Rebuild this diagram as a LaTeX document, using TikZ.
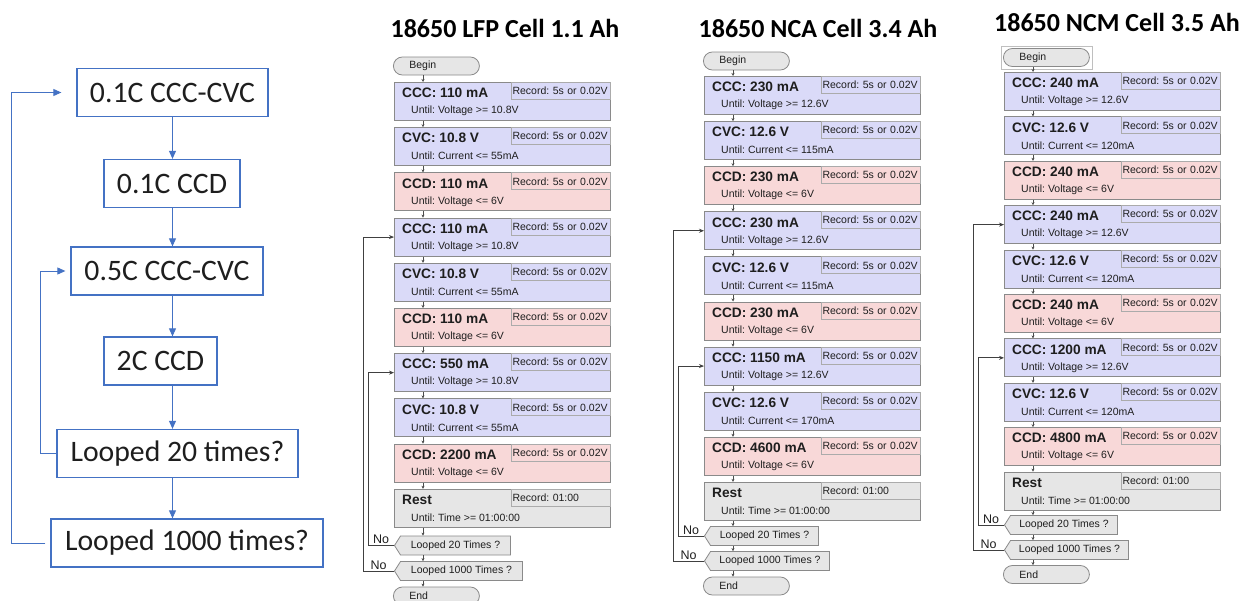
\documentclass[tikz,border=0pt]{standalone}
\usepackage{fontspec}
\setmainfont{Liberation Sans}
\newfontfamily\calibri{Carlito}
\usetikzlibrary{arrows.meta, positioning, shapes.misc, shapes.symbols, fit}
\definecolor{flowblue}{HTML}{4472C4}
\definecolor{chgfill}{HTML}{DADAF8}
\definecolor{disfill}{HTML}{F8D8D8}
\definecolor{restfill}{HTML}{E6E6E6}
\definecolor{boxline}{HTML}{8A8A8A}
\definecolor{recline}{HTML}{ABABAB}
\definecolor{inktext}{HTML}{1E1E1E}
\newcommand\smallfont{\fontsize{10.5}{12}\selectfont}
% one step of the cycler program: name, x, y, style, title, until, record
\newcommand\procstep[7]{%
  \node[#4] (#1) at (#2,#3) {};
  \node[rec] (#1r) at (#1.north east) {#7};
  \node[stitle] (#1t) at (#2+8,#3+11) {#5};
  \node[suntil] (#1u) at (#2+17,#3+29) {#6};
}

\begin{document}
\frenchspacing
\begin{tikzpicture}[x=1pt, y=-1pt,
    flowbox/.style={draw=flowblue, line width=1.3pt, minimum height=48pt, inner sep=0pt, font=\calibri\fontsize{29.7}{32}\selectfont, text=inktext},
    flowarr/.style={-{Triangle[length=8pt,width=7pt]}, draw=flowblue, line width=0.9pt},
    title/.style={font=\calibri\bfseries\fontsize{26}{28}\selectfont, text=black},
    box/.style={draw=boxline, line width=0.9pt, anchor=north west, minimum width=216pt, minimum height=38pt, inner sep=0pt},
    chg/.style={box, fill=chgfill},
    dis/.style={box, fill=disfill},
    rst/.style={box, fill=restfill},
    rec/.style={draw=recline, line width=0.7pt, anchor=north east, minimum height=17pt, text width=97pt, inner xsep=1pt, inner ysep=0pt, align=left, font=\smallfont, text=inktext},
    stitle/.style={anchor=west, inner sep=0pt, font=\fontsize{13.7}{15}\selectfont\bfseries, text=inktext},
    suntil/.style={anchor=west, inner sep=0pt, font=\smallfont, text=inktext},
    pill/.style={rounded rectangle, draw=boxline, fill=restfill, line width=0.8pt, anchor=west, minimum width=90pt, minimum height=18pt, text width=54pt, align=left, inner sep=2pt, font=\smallfont, text=inktext},
    ask/.style={signal, signal to=west, signal pointer angle=115, draw=boxline, fill=restfill, line width=0.8pt, anchor=west, minimum height=19pt, inner sep=2pt, font=\smallfont, text=inktext},
    tip/.style={-{Stealth[length=3pt,width=3pt]}, draw=black!70, line width=0.5pt},
    back/.style={-{Stealth[length=5pt,width=4pt]}, draw=black!75, line width=0.9pt},
    nolbl/.style={above, inner sep=1pt, font=\fontsize{12.5}{14}\selectfont, text=inktext}
]
\useasboundingbox (0,0) rectangle (1248,600);
\fill[white] (0,0) rectangle (1248,600);

% test sequence
\node[flowbox, minimum width=191pt] (b1) at (172.5,92.5) {0.1C CCC-CVC};
\node[flowbox, minimum width=136pt] (b2) at (172,183.5) {0.1C CCD};
\node[flowbox, minimum width=192pt] (b3) at (167,271) {0.5C CCC-CVC};
\node[flowbox, minimum width=113pt] (b4) at (160.5,361) {2C CCD};
\node[flowbox, minimum width=241pt] (b5) at (177.5,453.5) {Looped 20 times?};
\node[flowbox, minimum width=272pt] (b6) at (187,543) {Looped 1000 times?};

\draw[flowarr] (b1.south) -- (b1.south |- b2.north);
\draw[flowarr] (b1.south |- b2.south) -- (b1.south |- b3.north);
\draw[flowarr] (b1.south |- b3.south) -- (b1.south |- b4.north);
\draw[flowarr] (b1.south |- b4.south) -- (b1.south |- b5.north);
\draw[flowarr] (b1.south |- b5.south) -- (b1.south |- b6.north);
\draw[flowarr, shorten <=5pt, shorten >=15pt] (b6.west) -- ++(-39,0) |- (b1.west);
\draw[flowarr, shorten >=5pt] (b5.west) -- ++(-16,0) |- (b3.west);

% cycler programs
\node[title] (t1) at (505,28) {18650 LFP Cell 1.1 Ah};
\node[title] (t2) at (818,28) {18650 NCA Cell 3.4 Ah};
\node[title] (t3) at (1117,22) {18650 NCM Cell 3.5 Ah};

% LFP
\node[pill] (p1beg) at (393,66) {Begin};
\procstep{p1s1}{394}{82}{chg}{CCC: 110 mA}{Until: Voltage >= 10.8V}{Record: 5s or 0.02V}
\procstep{p1s2}{394}{127.2}{chg}{CVC: 10.8 V}{Until: Current <= 55mA}{Record: 5s or 0.02V}
\procstep{p1s3}{394}{172.4}{dis}{CCD: 110 mA}{Until: Voltage <= 6V}{Record: 5s or 0.02V}
\procstep{p1s4}{394}{217.6}{chg}{CCC: 110 mA}{Until: Voltage >= 10.8V}{Record: 5s or 0.02V}
\procstep{p1s5}{394}{262.8}{chg}{CVC: 10.8 V}{Until: Current <= 55mA}{Record: 5s or 0.02V}
\procstep{p1s6}{394}{308}{dis}{CCD: 110 mA}{Until: Voltage <= 6V}{Record: 5s or 0.02V}
\procstep{p1s7}{394}{353.2}{chg}{CCC: 550 mA}{Until: Voltage >= 10.8V}{Record: 5s or 0.02V}
\procstep{p1s8}{394}{398.4}{chg}{CVC: 10.8 V}{Until: Current <= 55mA}{Record: 5s or 0.02V}
\procstep{p1s9}{394}{443.6}{dis}{CCD: 2200 mA}{Until: Voltage <= 6V}{Record: 5s or 0.02V}
\procstep{p1s10}{394}{488.8}{rst}{Rest}{Until: Time >= 01:00:00}{Record: 01:00}
\node[ask, minimum width=116pt] (p1l20) at (394,545.5) {Looped 20 Times ?};
\node[ask, minimum width=128pt] (p1l1k) at (394,571) {Looped 1000 Times ?};
\node[pill] (p1end) at (393,596) {End};

% NCA
\node[pill] (p2beg) at (703,61) {Begin};
\procstep{p2s1}{704}{76}{chg}{CCC: 230 mA}{Until: Voltage >= 12.6V}{Record: 5s or 0.02V}
\procstep{p2s2}{704}{121.1}{chg}{CVC: 12.6 V}{Until: Current <= 115mA}{Record: 5s or 0.02V}
\procstep{p2s3}{704}{166.2}{dis}{CCD: 230 mA}{Until: Voltage <= 6V}{Record: 5s or 0.02V}
\procstep{p2s4}{704}{211.3}{chg}{CCC: 230 mA}{Until: Voltage >= 12.6V}{Record: 5s or 0.02V}
\procstep{p2s5}{704}{256.4}{chg}{CVC: 12.6 V}{Until: Current <= 115mA}{Record: 5s or 0.02V}
\procstep{p2s6}{704}{301.5}{dis}{CCD: 230 mA}{Until: Voltage <= 6V}{Record: 5s or 0.02V}
\procstep{p2s7}{704}{346.6}{chg}{CCC: 1150 mA}{Until: Voltage >= 12.6V}{Record: 5s or 0.02V}
\procstep{p2s8}{704}{391.7}{chg}{CVC: 12.6 V}{Until: Current <= 170mA}{Record: 5s or 0.02V}
\procstep{p2s9}{704}{436.8}{dis}{CCD: 4600 mA}{Until: Voltage <= 6V}{Record: 5s or 0.02V}
\procstep{p2s10}{704}{481.9}{rst}{Rest}{Until: Time >= 01:00:00}{Record: 01:00}
\node[ask, minimum width=114pt] (p2l20) at (704,536) {Looped 20 Times ?};
\node[ask, minimum width=125pt] (p2l1k) at (704,561) {Looped 1000 Times ?};
\node[pill] (p2end) at (703,586) {End};

% NCM
\node[pill] (p3beg) at (1003,57.5) {Begin};
\node[draw=black!25, line width=0.6pt, fit=(p3beg), inner sep=2pt] (p3sel) {};
\procstep{p3s1}{1004}{72}{chg}{CCC: 240 mA}{Until: Voltage >= 12.6V}{Record: 5s or 0.02V}
\procstep{p3s2}{1004}{116.4}{chg}{CVC: 12.6 V}{Until: Current <= 120mA}{Record: 5s or 0.02V}
\procstep{p3s3}{1004}{160.8}{dis}{CCD: 240 mA}{Until: Voltage <= 6V}{Record: 5s or 0.02V}
\procstep{p3s4}{1004}{205.2}{chg}{CCC: 240 mA}{Until: Voltage >= 12.6V}{Record: 5s or 0.02V}
\procstep{p3s5}{1004}{249.6}{chg}{CVC: 12.6 V}{Until: Current <= 120mA}{Record: 5s or 0.02V}
\procstep{p3s6}{1004}{294}{dis}{CCD: 240 mA}{Until: Voltage <= 6V}{Record: 5s or 0.02V}
\procstep{p3s7}{1004}{338.4}{chg}{CCC: 1200 mA}{Until: Voltage >= 12.6V}{Record: 5s or 0.02V}
\procstep{p3s8}{1004}{382.8}{chg}{CVC: 12.6 V}{Until: Current <= 120mA}{Record: 5s or 0.02V}
\procstep{p3s9}{1004}{427.2}{dis}{CCD: 4800 mA}{Until: Voltage <= 6V}{Record: 5s or 0.02V}
\procstep{p3s10}{1004}{471.6}{rst}{Rest}{Until: Time >= 01:00:00}{Record: 01:00}
\node[ask, minimum width=113pt] (p3l20) at (1004,525) {Looped 20 Times ?};
\node[ask, minimum width=124pt] (p3l1k) at (1004,550) {Looped 1000 Times ?};
\node[pill] (p3end) at (1003,574.5) {End};

% step arrows and loops
\foreach \p in {p1,p2,p3} {
  \draw[tip] ([xshift=29pt]\p s1.north west |- \p beg.south) -- ([xshift=29pt]\p s1.north west);
  \foreach \i [count=\j from 2] in {1,...,9}
    \draw[tip] ([xshift=29pt]\p s\i.south west) -- ([xshift=29pt]\p s\j.north west);
  \draw[tip] ([xshift=29pt]\p s10.south west) -- ([xshift=29pt]\p s10.south west |- \p l20.north);
  \draw[tip] ([xshift=29pt]\p s10.south west |- \p l20.south) -- ([xshift=29pt]\p s10.south west |- \p l1k.north);
  \draw[tip] ([xshift=29pt]\p s10.south west |- \p l1k.south) -- ([xshift=29pt]\p s10.south west |- \p end.north);
  \draw[back] (\p l20.west) -- node[nolbl] (\p no20) {No} ++(-26,0) |- (\p s7.west);
  \draw[back] (\p l1k.west) -- node[nolbl] (\p no1k) {No} ++(-31,0) |- (\p s4.west);
}
\end{tikzpicture}
\end{document}
